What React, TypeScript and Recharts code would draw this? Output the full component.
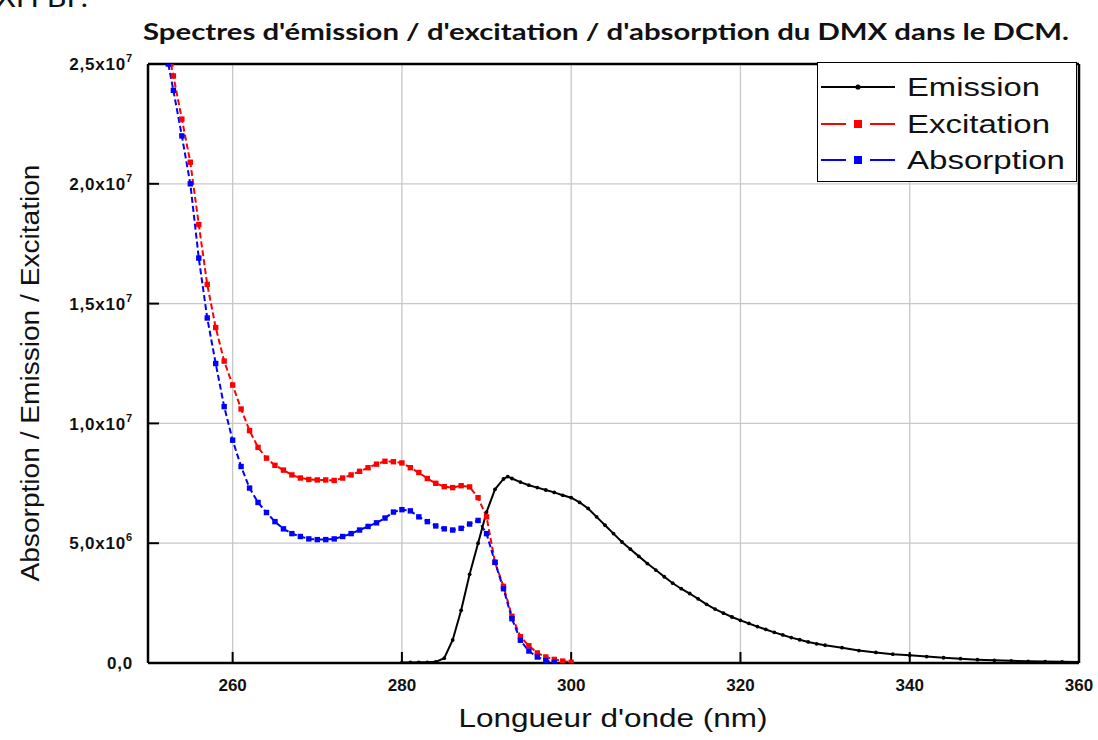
import { LineChart, Line, XAxis, YAxis, ReferenceLine, Legend } from 'recharts';

// Wavelengths (nm) and intensities
const emissionNm = [
    280, 281, 282, 283, 284, 285, 286, 287, 288, 289, 290, 291, 292, 292.5, 293, 294, 295, 296, 297, 298, 299, 300,
    301, 302, 303, 304, 305, 306, 307, 308, 309, 310, 311, 312, 313, 314, 315, 316, 317, 318, 319, 320,
    321, 322, 323, 324, 325, 326, 327, 328, 329, 330, 332, 334, 336, 338, 340, 342, 344, 346, 348, 350,
    352, 354, 356, 358, 360,
];
const emissionValues = [
    0.02e6, 0.02e6, 0.03e6, 0.03e6, 0.05e6, 0.2e6, 0.96e6, 2.2e6, 3.7e6, 5.0e6, 6.3e6, 7.25e6, 7.68e6, 7.78e6, 7.7e6, 7.55e6, 7.42e6, 7.32e6, 7.22e6, 7.12e6, 7.0e6, 6.9e6,
    6.7e6, 6.45e6, 6.1e6, 5.75e6, 5.4e6, 5.05e6, 4.75e6, 4.45e6, 4.15e6, 3.88e6, 3.6e6, 3.33e6, 3.1e6, 2.9e6, 2.68e6, 2.45e6, 2.25e6, 2.08e6, 1.92e6, 1.78e6,
    1.65e6, 1.52e6, 1.4e6, 1.28e6, 1.17e6, 1.06e6, 0.97e6, 0.88e6, 0.8e6, 0.74e6, 0.64e6, 0.52e6, 0.44e6, 0.37e6, 0.32e6, 0.27e6, 0.22e6, 0.18e6, 0.14e6, 0.11e6,
    0.09e6, 0.07e6, 0.06e6, 0.05e6, 0.04e6,
];

const excitationNm = [
    252.7, 253, 254, 255, 256, 257, 258, 259, 260, 261, 262, 263, 264, 265, 266, 267, 268, 269, 270, 271, 272, 273, 274, 275, 276,
    277, 278, 279, 280, 281, 282, 283, 284, 285, 286, 287, 288, 289, 290, 291, 292, 293, 294, 295, 296, 297, 298, 299, 300,
];
const excitationValues = [
    25.0e6, 24.5e6, 22.7e6, 20.9e6, 18.3e6, 15.8e6, 14.0e6, 12.6e6, 11.6e6, 10.6e6, 9.7e6, 9.0e6, 8.55e6, 8.25e6, 8.05e6, 7.85e6, 7.72e6, 7.66e6, 7.64e6, 7.64e6, 7.62e6, 7.72e6, 7.85e6, 8.0e6, 8.15e6,
    8.3e6, 8.42e6, 8.4e6, 8.35e6, 8.15e6, 7.95e6, 7.7e6, 7.5e6, 7.36e6, 7.32e6, 7.4e6, 7.35e6, 6.9e6, 6.1e6, 4.2e6, 3.2e6, 1.95e6, 1.1e6, 0.72e6, 0.42e6, 0.25e6, 0.15e6, 0.08e6, 0.03e6,
];

const absorptionNm = [
    252.4, 253, 254, 255, 256, 257, 258, 259, 260, 261, 262, 263, 264, 265, 266, 267, 268, 269, 270, 271, 272, 273, 274, 275, 276,
    277, 278, 279, 280, 281, 282, 283, 284, 285, 286, 287, 288, 289, 290, 291, 292, 293, 294, 295, 296, 297, 298,
];
const absorptionValues = [
    25.0e6, 23.9e6, 22.0e6, 20.0e6, 16.9e6, 14.4e6, 12.5e6, 10.7e6, 9.3e6, 8.2e6, 7.3e6, 6.7e6, 6.28e6, 5.9e6, 5.6e6, 5.4e6, 5.28e6, 5.18e6, 5.15e6, 5.15e6, 5.18e6, 5.28e6, 5.4e6, 5.55e6, 5.7e6,
    5.85e6, 6.05e6, 6.3e6, 6.4e6, 6.35e6, 6.1e6, 5.9e6, 5.72e6, 5.6e6, 5.55e6, 5.62e6, 5.8e6, 5.95e6, 5.4e6, 4.2e6, 3.1e6, 1.85e6, 0.95e6, 0.5e6, 0.25e6, 0.1e6, 0.03e6,
];

const seriesNames = ['Emission', 'Excitation', 'Absorption'];
const seriesColors = ['#000000', '#ff0000', '#0000ff'];

const xMajorTicks = [260, 280, 300, 320, 340, 360];
const xMinorTicks = [270, 290, 310, 330, 350];
const yMajorTicks = [0, 5e6, 10e6, 15e6, 20e6, 25e6];
const yMinorTicks = [2.5e6, 7.5e6, 12.5e6, 17.5e6, 22.5e6];
const yTickMantissa = ['0,0', '5,0x10', '1,0x10', '1,5x10', '2,0x10', '2,5x10'];
const yTickExponent = ['', '6', '7', '7', '7', '7'];

const FONT = '"Liberation Sans", Arial, sans-serif';
const X_DOMAIN: [number, number] = [250, 360];
const Y_DOMAIN: [number, number] = [0, 25e6];
const MAJOR_TICK = 11;
const MINOR_TICK = 6;

const toPoints = (nm: number[], values: number[]) => nm.map((x, i) => ({ nm: x, v: values[i] }));

const emissionData = toPoints(emissionNm, emissionValues);
const excitationData = toPoints(excitationNm, excitationValues);
const absorptionData = toPoints(absorptionNm, absorptionValues);

// mirrored axes draw their ticks inward; labels are placed back outside the frame
const xLabelTick = (props: any) => {
    const { x, y, payload } = props;
    return (
        <text x={x} y={y + MAJOR_TICK + 28} textAnchor="middle" fontFamily={FONT} fontWeight={700} fontSize={17} fill="#111">
            {payload.value}
        </text>
    );
};

const yLabelTick = (props: any) => {
    const { x, y, payload } = props;
    const idx = yMajorTicks.indexOf(payload.value);
    return (
        <text x={x - MAJOR_TICK - 15} y={y} dy="0.36em" textAnchor="end" fontFamily={FONT} fontWeight={700} fontSize={17} fill="#111" letterSpacing={0.8}>
            {yTickMantissa[idx]}
            {yTickExponent[idx] && (
                <tspan dy={-8} fontSize={11}>{yTickExponent[idx]}</tspan>
            )}
        </text>
    );
};

const squareDot = (color: string) => (props: any) => {
    const { cx, cy, index } = props;
    if (cx == null || cy == null) return <g key={`sq-${index}`} />;
    return <rect key={`sq-${index}`} x={cx - 2.7} y={cy - 2.7} width={5.4} height={5.4} fill={color} />;
};

const roundDot = (props: any) => {
    const { cx, cy, index } = props;
    if (cx == null || cy == null) return <g key={`rd-${index}`} />;
    return <circle key={`rd-${index}`} cx={cx} cy={cy} r={1.9} fill="#000" />;
};

const legendWidths = [133, 143, 158];

const renderLegend = () => (
    <div
        style={{
            width: 260,
            height: 120,
            boxSizing: 'border-box',
            border: '1.5px solid #000',
            background: '#fff',
            paddingTop: 6,
        }}
    >
        {seriesNames.map((name, i) => (
            <svg key={name} width={256} height={36.5} style={{ display: 'block' }}>
                {i === 0 ? (
                    <>
                        <line x1={3} y1={18} x2={77} y2={18} stroke={seriesColors[i]} strokeWidth={2} />
                        <circle cx={40} cy={18} r={2.6} fill={seriesColors[i]} />
                    </>
                ) : (
                    <>
                        <line x1={3} y1={18} x2={28} y2={18} stroke={seriesColors[i]} strokeWidth={2} />
                        <rect x={36} y={14} width={8} height={8} fill={seriesColors[i]} />
                        <line x1={52} y1={18} x2={77} y2={18} stroke={seriesColors[i]} strokeWidth={2} />
                    </>
                )}
                <text
                    x={89}
                    y={27}
                    fontFamily={FONT}
                    fontSize={26}
                    fill="#111"
                    textLength={legendWidths[i]}
                    lengthAdjust="spacingAndGlyphs"
                >
                    {name}
                </text>
            </svg>
        ))}
    </div>
);

const frameLine = { stroke: '#000', strokeWidth: 2.5 };
const tickStroke = { stroke: '#000', strokeWidth: 2 };

export default function App() {
    return (
        <div style={{ position: 'absolute', left: 0, top: 0, width: 1098, height: 740, background: '#fff', overflow: 'hidden' }}>
            <LineChart width={1098} height={740} margin={{ top: 64, right: 19, bottom: 77, left: 148 }}>
                {/* bottom: major ticks with labels, then minor ticks */}
                <XAxis xAxisId="b" dataKey="nm" type="number" domain={X_DOMAIN} ticks={xMajorTicks} interval={0}
                    orientation="bottom" mirror height={1} tickSize={MAJOR_TICK} tickMargin={0}
                    tickLine={tickStroke} axisLine={frameLine} tick={xLabelTick} allowDataOverflow />
                <XAxis xAxisId="bm" type="number" domain={X_DOMAIN} ticks={xMinorTicks} interval={0}
                    orientation="bottom" mirror height={1} tickSize={MINOR_TICK}
                    tickLine={tickStroke} axisLine={false} tick={false} allowDataOverflow />
                {/* top frame */}
                <XAxis xAxisId="t" type="number" domain={X_DOMAIN} ticks={xMajorTicks} interval={0}
                    orientation="top" mirror height={1} tickSize={MAJOR_TICK}
                    tickLine={tickStroke} axisLine={frameLine} tick={false} allowDataOverflow />
                <XAxis xAxisId="tm" type="number" domain={X_DOMAIN} ticks={xMinorTicks} interval={0}
                    orientation="top" mirror height={1} tickSize={MINOR_TICK}
                    tickLine={tickStroke} axisLine={false} tick={false} allowDataOverflow />

                {/* left: major ticks with labels, then minor ticks */}
                <YAxis yAxisId="l" type="number" domain={Y_DOMAIN} ticks={yMajorTicks} interval={0}
                    orientation="left" mirror width={1} tickSize={MAJOR_TICK} tickMargin={0}
                    tickLine={tickStroke} axisLine={frameLine} tick={yLabelTick} allowDataOverflow />
                <YAxis yAxisId="lm" type="number" domain={Y_DOMAIN} ticks={yMinorTicks} interval={0}
                    orientation="left" mirror width={1} tickSize={MINOR_TICK}
                    tickLine={tickStroke} axisLine={false} tick={false} allowDataOverflow />
                {/* right frame */}
                <YAxis yAxisId="r" type="number" domain={Y_DOMAIN} ticks={yMajorTicks} interval={0}
                    orientation="right" mirror width={1} tickSize={MAJOR_TICK}
                    tickLine={tickStroke} axisLine={frameLine} tick={false} allowDataOverflow />
                <YAxis yAxisId="rm" type="number" domain={Y_DOMAIN} ticks={yMinorTicks} interval={0}
                    orientation="right" mirror width={1} tickSize={MINOR_TICK}
                    tickLine={tickStroke} axisLine={false} tick={false} allowDataOverflow />

                {/* light grid on major ticks only */}
                {xMajorTicks.slice(0, -1).map(v => (
                    <ReferenceLine key={`gx-${v}`} x={v} xAxisId="b" yAxisId="l" stroke="#c8c8c8" strokeWidth={1.3} />
                ))}
                {yMajorTicks.slice(1, -1).map(v => (
                    <ReferenceLine key={`gy-${v}`} y={v} xAxisId="b" yAxisId="l" stroke="#c8c8c8" strokeWidth={1.3} />
                ))}

                <Line
                    xAxisId="b"
                    yAxisId="l"
                    data={excitationData}
                    dataKey="v"
                    name={seriesNames[1]}
                    type="linear"
                    stroke={seriesColors[1]}
                    strokeWidth={2}
                    strokeDasharray="6 3"
                    dot={squareDot(seriesColors[1])}
                    isAnimationActive={false}
                />
                <Line
                    xAxisId="b"
                    yAxisId="l"
                    data={absorptionData}
                    dataKey="v"
                    name={seriesNames[2]}
                    type="linear"
                    stroke={seriesColors[2]}
                    strokeWidth={2}
                    strokeDasharray="6 3"
                    dot={squareDot(seriesColors[2])}
                    isAnimationActive={false}
                />
                <Line
                    xAxisId="b"
                    yAxisId="l"
                    data={emissionData}
                    dataKey="v"
                    name={seriesNames[0]}
                    type="linear"
                    stroke={seriesColors[0]}
                    strokeWidth={2}
                    dot={roundDot}
                    isAnimationActive={false}
                />

                <Legend
                    layout="horizontal"
                    align="center"
                    verticalAlign="middle"
                    content={renderLegend}
                    wrapperStyle={{ left: 817, top: 62, width: 260 }}
                />
            </LineChart>

            <svg width={1098} height={740} style={{ position: 'absolute', left: 0, top: 0, pointerEvents: 'none' }}>
                {/* clipped caption fragment above the figure */}
                <text x={-4} y={7} fontFamily="Lato, sans-serif" fontSize={26} fill="#111" textLength={92} lengthAdjust="spacingAndGlyphs">
                    XH BF.
                </text>
                <text
                    x={606}
                    y={40}
                    textAnchor="middle"
                    fontFamily="Lato, 'Open Sans', sans-serif"
                    fontWeight={700}
                    fontSize={23}
                    fill="#111"
                    textLength={926}
                    lengthAdjust="spacingAndGlyphs"
                >
                    Spectres d'émission / d'excitation / d'absorption du DMX dans le DCM.
                </text>
                <text
                    x={613}
                    y={727}
                    textAnchor="middle"
                    fontFamily={FONT}
                    fontSize={25}
                    fill="#111"
                    textLength={309}
                    lengthAdjust="spacingAndGlyphs"
                >
                    Longueur d'onde (nm)
                </text>
                <text
                    x={0}
                    y={0}
                    transform="translate(39 373) rotate(-90)"
                    textAnchor="middle"
                    fontFamily={FONT}
                    fontSize={25}
                    fill="#111"
                    textLength={417}
                    lengthAdjust="spacingAndGlyphs"
                >
                    Absorption / Emission / Excitation
                </text>
            </svg>
        </div>
    );
}
